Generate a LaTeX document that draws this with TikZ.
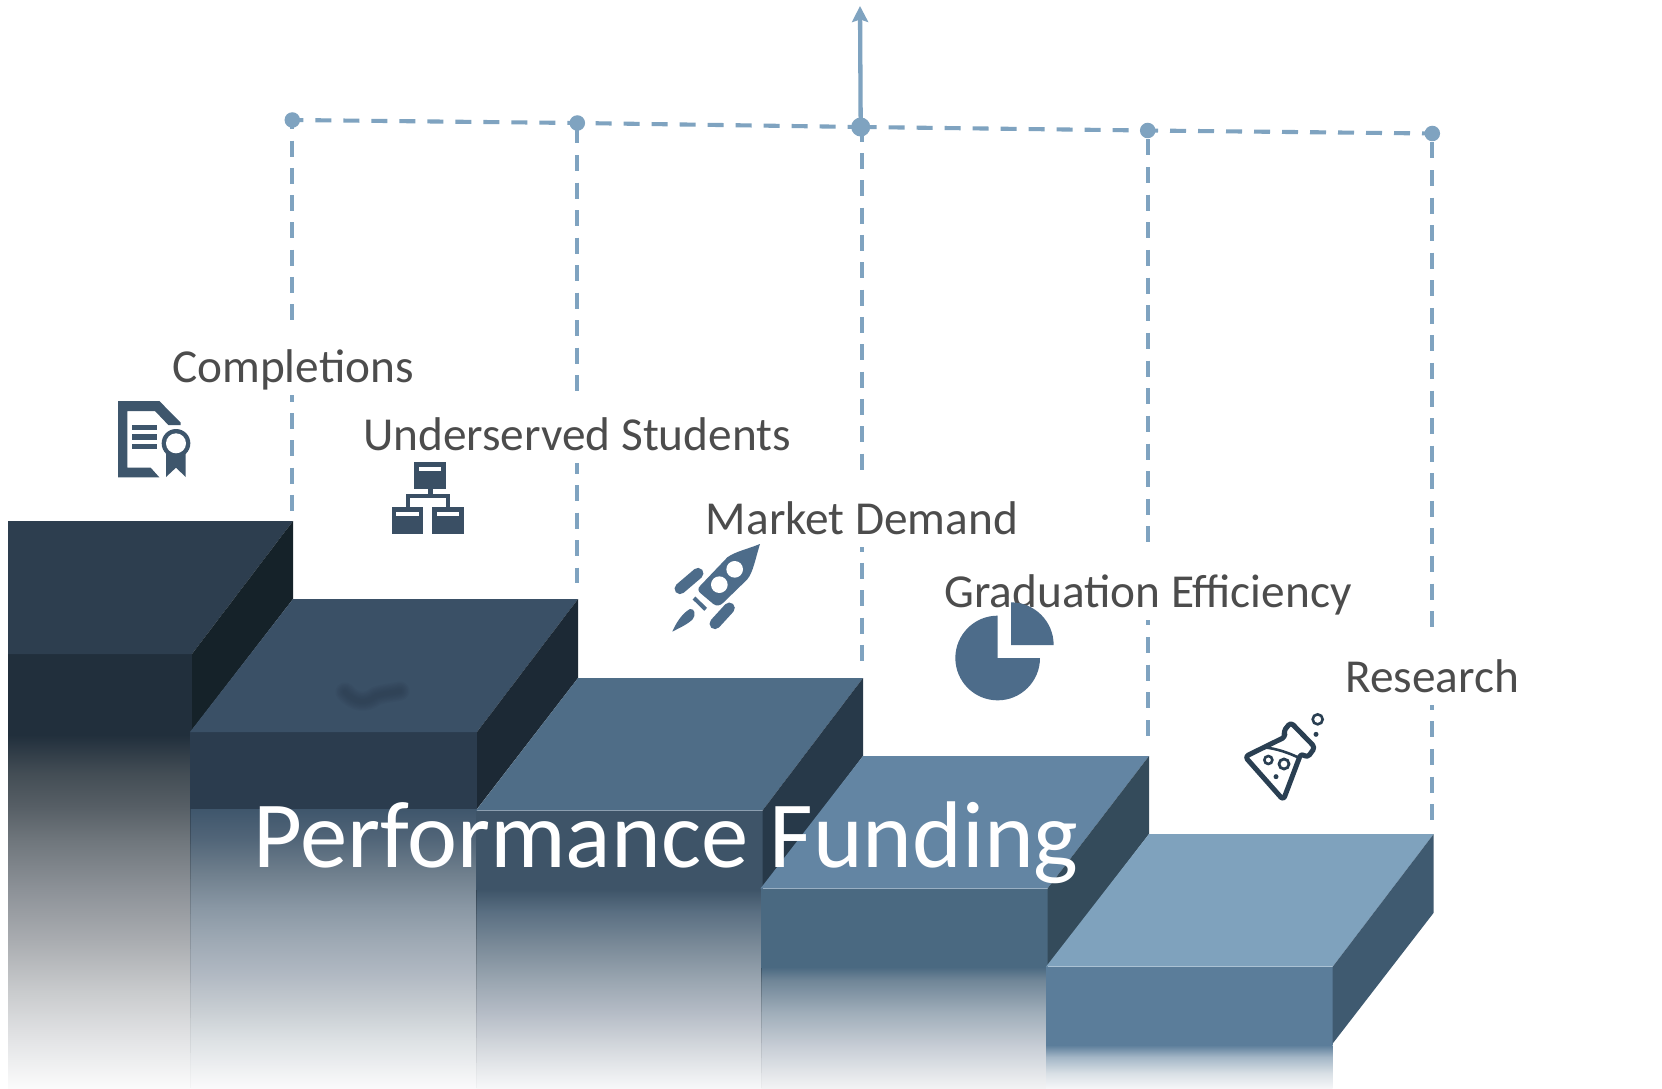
\documentclass[tikz,border=0pt]{standalone}
\usepackage{fontspec}
\setmainfont{Carlito}
\usetikzlibrary{arrows.meta}
\newcommand{\hc}[2]{\definecolor{#1}{HTML}{#2}}
\hc{dashc}{7FA3C0}\hc{txt}{4C4C4C}\hc{icA}{3E566C}\hc{icO}{3A4F64}\hc{icB}{4D6C8A}\hc{icC}{2A3F52}
\hc{ta}{2D3E4F}\hc{sa}{152229}\hc{fa}{212F3C}
\hc{tb}{3A5066}\hc{sb}{1C2935}\hc{fb}{2B3C4E}
\hc{tc}{4F6D87}\hc{sc}{273949}\hc{fc}{3E5468}
\hc{td}{6385A3}\hc{sd}{344B5B}\hc{fd}{4A6981}
\hc{te}{7FA2BD}\hc{se}{3F5A70}\hc{fe}{5B7D9A}
\hc{a1}{434D55}\hc{a2}{575F66}\hc{a3}{6F767C}\hc{a4}{8D9298}\hc{a5}{A9ACB0}\hc{a6}{C8CACC}\hc{a7}{E3E4E6}\hc{a8}{FBFBFB}
\hc{b0}{3F566C}\hc{b1}{526679}\hc{b2}{6F7F8D}\hc{b3}{8997A4}\hc{b4}{9EA9B4}\hc{b5}{B0B8C2}\hc{b6}{C6CCD1}\hc{b7}{DDE1E4}\hc{b8}{FAFAFB}
\hc{c1}{5A6F82}\hc{c2}{7B8B99}\hc{c3}{99A5B0}\hc{c4}{B5BCC6}\hc{c5}{D4D8DD}\hc{c6}{F7F8F9}
\hc{d1}{6F8597}\hc{d2}{A0AEBA}\hc{d3}{C8CED6}\hc{d4}{F2F3F4}
\hc{e1}{A3B6C6}\hc{e2}{D8DFE5}\hc{e3}{F5F6F8}
\pgfdeclareverticalshading{fadeA}{100bp}{color(0bp)=(a8);color(25bp)=(a8);color(31.8bp)=(a7);color(38.9bp)=(a6);color(45.95bp)=(a5);color(53bp)=(a4);color(60.15bp)=(a3);color(64.8bp)=(a2);color(69.6bp)=(a1);color(75bp)=(fa);color(100bp)=(fa)}
\pgfdeclareverticalshading{fadeB}{100bp}{color(0bp)=(b8);color(25bp)=(b8);color(33.6bp)=(b7);color(39.5bp)=(b6);color(45.6bp)=(b5);color(51.5bp)=(b4);color(57.45bp)=(b3);color(63.5bp)=(b2);color(69.45bp)=(b1);color(75bp)=(b0);color(100bp)=(b0)}
\pgfdeclareverticalshading{fadeC}{100bp}{color(0bp)=(c6);color(25bp)=(c6);color(35.35bp)=(c5);color(43.95bp)=(c4);color(52.25bp)=(c3);color(60.6bp)=(c2);color(69.2bp)=(c1);color(75bp)=(fc);color(100bp)=(fc)}
\pgfdeclareverticalshading{fadeD}{100bp}{color(0bp)=(d4);color(25bp)=(d4);color(41.95bp)=(d3);color(56bp)=(d2);color(69.65bp)=(d1);color(75bp)=(fd);color(100bp)=(fd)}
\pgfdeclareverticalshading{fadeE}{100bp}{color(0bp)=(e3);color(25bp)=(e3);color(42.45bp)=(e2);color(61bp)=(e1);color(75bp)=(fe);color(100bp)=(fe)}
\newcommand{\edgeln}[3]{\foreach \q in {0,...,7}{\draw[black,line width=0.7pt,opacity={0.2-0.025*\q}] (#1,{#2+(#3-#2)*\q/8}) -- (#1,{#2+(#3-#2)*(\q+1)/8});}}
\tikzset{
 link/.style={draw=dashc,line width=4.1pt},
 dotn/.style={circle,fill=dashc,inner sep=0pt,minimum size=#1},
 lab/.style={fill=white,text=txt,font=\fontsize{47.3}{50}\selectfont,inner sep=0pt,text height=56pt,text depth=13pt,anchor=base},
 ttl/.style={text=white,font=\fontsize{94.7}{100}\selectfont,inner sep=0pt,anchor=base west},
}
\begin{document}
\begin{tikzpicture}[x=1pt,y=-1pt]
\useasboundingbox (0,0) rectangle (1662,1089);
\fill[white] (0,0) rectangle (1662,1089);
% dots and free ends
\node[dotn=15.5pt] (n1) at (292.3,120) {};
\node[dotn=15.5pt] (n2) at (577.3,123) {};
\node[dotn=19pt] (n3) at (860.7,127) {};
\node[dotn=15.5pt] (n4) at (1147.7,130.5) {};
\node[dotn=15.5pt] (n5) at (1432.3,133.5) {};
\coordinate (k1) at (292.3,511);
\coordinate (k2) at (577.3,583);
\coordinate (k3) at (861.7,663);
\coordinate (k3t) at (861.7,127);
\coordinate (k4) at (1147.7,736);
\coordinate (k5) at (1432.3,820);
\coordinate (up) at (860,6);
% vertical dashed
\draw[link,dash pattern=on 16pt off 11.25pt,dash phase=6.55pt] (n1.center)--(k1);
\draw[link,dash pattern=on 16pt off 11.5pt,dash phase=23pt] (n2.center)--(k2);
\draw[link,dash pattern=on 16pt off 11.33pt,dash phase=1.33pt] (k3t)--(k3);
\draw[link,dash pattern=on 16pt off 11.65pt,dash phase=18.8pt] (n4.center)--(k4);
\draw[link,dash pattern=on 16pt off 11.57pt,dash phase=18.64pt] (n5.center)--(k5);
% horizontal dashed
\draw[link,dash pattern=on 16pt off 12pt,dash phase=5pt] (n1.center)--(n2.center);
\draw[link,dash pattern=on 16pt off 12pt,dash phase=9.6pt] (n2.center)--(n3.center);
\draw[link,dash pattern=on 16pt off 12pt] (n3.center)--(n4.center);
\draw[link,dash pattern=on 16pt off 12pt,dash phase=5.7pt] (n4.center)--(n5.center);
\draw[draw=dashc,line width=4.3pt,-{Stealth[length=16pt,width=16pt,inset=2.5pt]}] (n3.center)--(up);
% labels
\node[lab] (l1) at (293,382) {Completions};
\node[lab] (l2) at (577,450) {Underserved Students};
\node[lab] (l3) at (862,534) {Market Demand};
\node[lab] (l4) at (1148,607) {Graduation Efficiency};
\node[lab] (l5) at (1432,692) {Research};
% step 1
\shade[shading=fadeA] (8,735) rectangle (191,1088);
\fill[fa] (8,654) rectangle (192,735.5);
\fill[ta] (8,521)--(293,521)--(192,654)--(8,654)--cycle;
\fill[sa] (293,521)--(293,599)--(192,730)--(192,654)--cycle;
% step 2
\shade[shading=fadeB] (190,809) rectangle (477,1088);
\edgeln{190}{809}{1088}
\fill[fb] (190,732) rectangle (477,809.3);
\fill[tb] (293,599)--(578,599)--(477,732)--(190,732)--cycle;
\fill[sb] (578,599)--(578,678)--(477,809)--(477,732)--cycle;
\foreach \lw in {19,16,13,10,7,4}{\draw[fb,opacity=.12,line width=\lw pt,line cap=round] (345,692) .. controls (355,703) and (366,704) .. (376,696) .. controls (385,693) and (392,693) .. (400,691);}
% step 3
\shade[shading=fadeC] (476,889) rectangle (762,1088);
\edgeln{476}{889}{1088}
\fill[fc] (476,810.5) rectangle (762.5,890);
\fill[tc] (578,678)--(863,678)--(762.5,810.5)--(476,810.5)--cycle;
\fill[sc] (863,678)--(863,756)--(762.5,888.5)--(762.5,810.5)--cycle;
% step 4
\shade[shading=fadeD] (761,967) rectangle (1047,1088);
\edgeln{761}{967}{1088}
\fill[fd] (760.5,888.5) rectangle (1047.5,967.5);
\fill[td] (863,756)--(1149,756)--(1047.5,888.5)--(760.5,888.5)--cycle;
\fill[sd] (1149,756)--(1149,834)--(1047.5,966.5)--(1047.5,888.5)--cycle;
% step 5
\shade[shading=fadeE] (1046,1045) rectangle (1332.7,1088);
\fill[fe] (1046,966.7) rectangle (1332.7,1045.3);
\fill[te] (1149,834)--(1433.7,834)--(1332.7,966.7)--(1046,966.7)--cycle;
\fill[se] (1433.7,834)--(1433.7,912.7)--(1332.7,1043.5)--(1332.7,966.7)--cycle;
% title
\node[ttl] (title) at (253,867) {Performance Funding};
% certificate icon
\begin{scope}[shift={(100,380)},scale=0.33333]
\fill[icA] (54,63)--(178,63)--(242,128)--(242,135)--(205,135)--(165,93)--(82,93)--(82,263)--(152,263)--(178,292)--(54,292)--cycle;
\fill[icA] (96,135) rectangle (171,151);
\fill[icA] (96,163) rectangle (171,179);
\fill[icA] (96,191) rectangle (171,207);
\fill[icA] (198,215)--(198,291)--(228,263)--(257,291)--(257,215)--cycle;
\fill[icA] (228,190) circle[radius=43];
\fill[white] (228,190) circle[radius=30];
% org chart icon
\fill[icO] (943,247) rectangle (1037,328);
\fill[white] (957,262) rectangle (1024,274);
\fill[icO] (984,328) rectangle (998,342);
\fill[icO] (917,342) rectangle (1051,382);
\fill[white] (931,355) rectangle (1037,382);
\fill[icO] (876,382) rectangle (970,463);
\fill[white] (889,396) rectangle (957,409);
\fill[icO] (997,382) rectangle (1091,463);
\fill[white] (1011,396) rectangle (1078,409);
\end{scope}
% rocket and pie icons
\begin{scope}[shift={(640,520)},scale=0.33333]
\fill[icB] (360,72) .. controls (320,88) and (285,95) .. (262,112) -- (180,198) .. controls (172,206) and (175,214) .. (182,220) -- (220,252) .. controls (230,259) and (240,258) .. (250,248) -- (322,178) .. controls (340,155) and (345,120) .. (360,72) -- cycle;
\fill[white] (284,148) circle[radius=25];
\fill[white] (238,194) circle[radius=25];
\draw[icB,line width=11pt,line cap=round] (120,206)--(174,160);
\draw[icB,line width=11pt,line cap=round] (225,311)--(268,264);
\draw[icB,line width=4pt] (162,234)--(197,268);
\fill[icB] (97,335) .. controls (105,315) and (125,280) .. (150,267) .. controls (165,265) and (168,285) .. (158,298) .. controls (140,315) and (115,325) .. (97,335) -- cycle;
\fill[icB] (1073,414)--(1073,287) arc[start angle=-90,end angle=-360,radius=127]--cycle;
\fill[icB] (1113,375)--(1113,247) arc[start angle=-90,end angle=0,radius=128]--cycle;
\end{scope}
% flask icon
\begin{scope}[shift={(1220,690)},scale=0.33333]
\draw[icC,line width=5pt,rounded corners=3.5pt,line join=round] (197,140)--(75,200)--(190,330)--(243,190)--(262,203)--(285,172)--(212,97)--(190,125)--cycle;
\draw[icC,line width=2.6pt] (130,172) .. controls (170,175) and (210,190) .. (240,205);
\draw[icC,line width=2.6pt] (145,210) circle[radius=12];
\draw[icC,line width=2.8pt] (192,222) circle[radius=15];
\fill[icC] (168,260) circle[radius=7.5];
\draw[icC,line width=2.6pt] (293,88) circle[radius=15];
\fill[icC] (288,133) circle[radius=7.5];
\end{scope}
\end{tikzpicture}
\end{document}
